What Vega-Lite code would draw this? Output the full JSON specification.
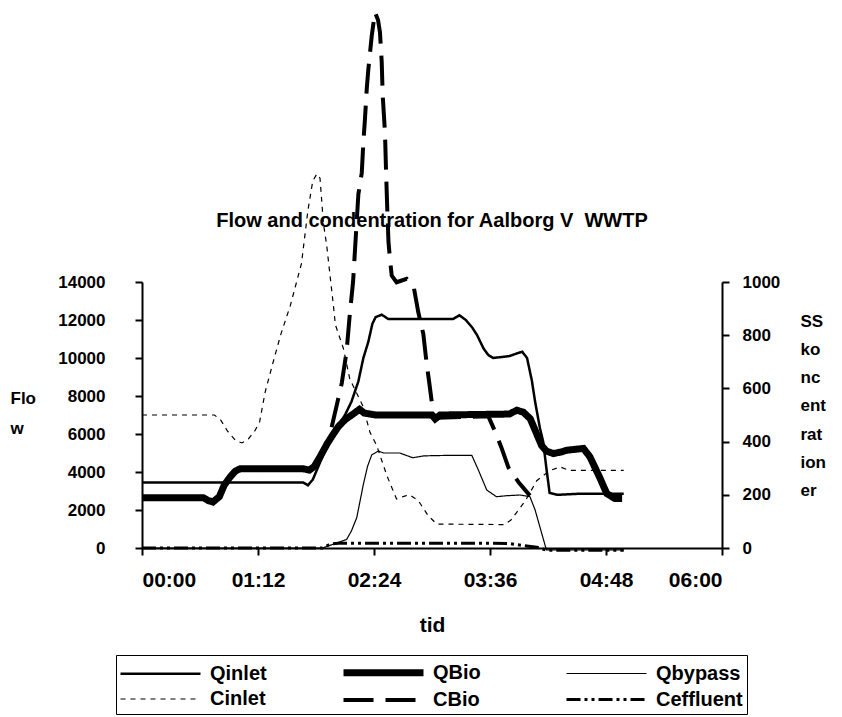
{
  "$schema": "https://vega.github.io/schema/vega-lite/v6.json",
  "width": 580,
  "height": 266,
  "autosize": {"type": "none"},
  "padding": {"left": 142, "top": 282, "right": 120, "bottom": 169},
  "background": "white",
  "config": {
    "font": "Liberation Sans",
    "view": {"stroke": null},
    "axis": {"domainColor": "black", "domainWidth": 2, "tickColor": "black", "tickWidth": 2, "labelColor": "black", "labelFont": "Liberation Sans", "labelFontWeight": "bold", "labelFontSize": 17, "titleFont": "Liberation Sans", "titleFontWeight": "bold", "titleFontSize": 17, "titleColor": "black", "grid": false},
    "legend": {"labelFont": "Liberation Sans", "labelFontWeight": "bold", "labelFontSize": 20, "labelColor": "black"}
  },
  "title": {"text": "Flow and condentration for Aalborg V\u00a0 WWTP", "fontSize": 20, "fontWeight": "bold", "font": "Liberation Sans", "color": "black", "anchor": "middle", "baseline": "alphabetic", "offset": 0, "dy": 243},
  "datasets": {
    "flow": [
      {"series": "Qinlet", "t": 0, "v": 3450}, {"series": "Qinlet", "t": 100, "v": 3450}, {"series": "Qinlet", "t": 103, "v": 3300}, {"series": "Qinlet", "t": 106, "v": 3600}, {"series": "Qinlet", "t": 110, "v": 4400}, {"series": "Qinlet", "t": 115, "v": 5400}, {"series": "Qinlet", "t": 121, "v": 6350}, {"series": "Qinlet", "t": 126, "v": 7000}, {"series": "Qinlet", "t": 130, "v": 7700}, {"series": "Qinlet", "t": 134.3, "v": 8770}, {"series": "Qinlet", "t": 137.4, "v": 10000}, {"series": "Qinlet", "t": 140.5, "v": 10860}, {"series": "Qinlet", "t": 143, "v": 11800}, {"series": "Qinlet", "t": 145, "v": 12150}, {"series": "Qinlet", "t": 148.8, "v": 12280}, {"series": "Qinlet", "t": 152.9, "v": 12050}, {"series": "Qinlet", "t": 193, "v": 12050}, {"series": "Qinlet", "t": 197, "v": 12250}, {"series": "Qinlet", "t": 201, "v": 12000}, {"series": "Qinlet", "t": 205, "v": 11600}, {"series": "Qinlet", "t": 208, "v": 11200}, {"series": "Qinlet", "t": 212, "v": 10500}, {"series": "Qinlet", "t": 215, "v": 10150}, {"series": "Qinlet", "t": 218, "v": 10000}, {"series": "Qinlet", "t": 228, "v": 10100}, {"series": "Qinlet", "t": 233, "v": 10250}, {"series": "Qinlet", "t": 236, "v": 10330}, {"series": "Qinlet", "t": 239, "v": 10000}, {"series": "Qinlet", "t": 242, "v": 8800}, {"series": "Qinlet", "t": 244, "v": 7700}, {"series": "Qinlet", "t": 247, "v": 6300}, {"series": "Qinlet", "t": 249, "v": 5600}, {"series": "Qinlet", "t": 251, "v": 4200}, {"series": "Qinlet", "t": 253, "v": 2900}, {"series": "Qinlet", "t": 258, "v": 2800}, {"series": "Qinlet", "t": 270, "v": 2850}, {"series": "Qinlet", "t": 299, "v": 2850},
      {"series": "QBio", "t": 0, "v": 2650}, {"series": "QBio", "t": 38, "v": 2650}, {"series": "QBio", "t": 41, "v": 2500}, {"series": "QBio", "t": 44, "v": 2420}, {"series": "QBio", "t": 48, "v": 2700}, {"series": "QBio", "t": 51, "v": 3300}, {"series": "QBio", "t": 54.6, "v": 3730}, {"series": "QBio", "t": 58, "v": 4050}, {"series": "QBio", "t": 61, "v": 4170}, {"series": "QBio", "t": 100, "v": 4170}, {"series": "QBio", "t": 104, "v": 4100}, {"series": "QBio", "t": 107, "v": 4300}, {"series": "QBio", "t": 110.5, "v": 4800}, {"series": "QBio", "t": 115, "v": 5500}, {"series": "QBio", "t": 118.8, "v": 6000}, {"series": "QBio", "t": 122, "v": 6400}, {"series": "QBio", "t": 126, "v": 6750}, {"series": "QBio", "t": 131, "v": 7050}, {"series": "QBio", "t": 135, "v": 7300}, {"series": "QBio", "t": 138, "v": 7100}, {"series": "QBio", "t": 145, "v": 7000}, {"series": "QBio", "t": 180, "v": 7000}, {"series": "QBio", "t": 182, "v": 6800}, {"series": "QBio", "t": 185, "v": 7000}, {"series": "QBio", "t": 228, "v": 7050}, {"series": "QBio", "t": 232.6, "v": 7250}, {"series": "QBio", "t": 236.7, "v": 7150}, {"series": "QBio", "t": 241, "v": 6800}, {"series": "QBio", "t": 245, "v": 6000}, {"series": "QBio", "t": 248, "v": 5400}, {"series": "QBio", "t": 251, "v": 5100}, {"series": "QBio", "t": 255.3, "v": 4970}, {"series": "QBio", "t": 260, "v": 5050}, {"series": "QBio", "t": 264, "v": 5150}, {"series": "QBio", "t": 274, "v": 5240}, {"series": "QBio", "t": 278, "v": 4800}, {"series": "QBio", "t": 284, "v": 3730}, {"series": "QBio", "t": 288.5, "v": 2860}, {"series": "QBio", "t": 293.6, "v": 2600}, {"series": "QBio", "t": 298, "v": 2600},
      {"series": "Qbypass", "t": 0, "v": 0}, {"series": "Qbypass", "t": 112, "v": 0}, {"series": "Qbypass", "t": 117, "v": 150}, {"series": "Qbypass", "t": 122, "v": 300}, {"series": "Qbypass", "t": 127, "v": 450}, {"series": "Qbypass", "t": 130, "v": 900}, {"series": "Qbypass", "t": 133.3, "v": 1600}, {"series": "Qbypass", "t": 137.4, "v": 3350}, {"series": "Qbypass", "t": 140, "v": 4300}, {"series": "Qbypass", "t": 142.6, "v": 4900}, {"series": "Qbypass", "t": 146.7, "v": 5100}, {"series": "Qbypass", "t": 150, "v": 5000}, {"series": "Qbypass", "t": 160, "v": 5000}, {"series": "Qbypass", "t": 168, "v": 4750}, {"series": "Qbypass", "t": 175, "v": 4850}, {"series": "Qbypass", "t": 193, "v": 4880}, {"series": "Qbypass", "t": 204.7, "v": 4880}, {"series": "Qbypass", "t": 208.8, "v": 4100}, {"series": "Qbypass", "t": 214, "v": 3050}, {"series": "Qbypass", "t": 220, "v": 2700}, {"series": "Qbypass", "t": 226, "v": 2750}, {"series": "Qbypass", "t": 234.6, "v": 2790}, {"series": "Qbypass", "t": 240.8, "v": 2700}, {"series": "Qbypass", "t": 244, "v": 2000}, {"series": "Qbypass", "t": 248, "v": 800}, {"series": "Qbypass", "t": 251, "v": -100}, {"series": "Qbypass", "t": 299, "v": -100}
    ],
    "conc": [
      {"series": "Cinlet", "t": 0, "v": 500}, {"series": "Cinlet", "t": 45, "v": 500}, {"series": "Cinlet", "t": 49, "v": 480}, {"series": "Cinlet", "t": 53, "v": 440}, {"series": "Cinlet", "t": 58, "v": 405}, {"series": "Cinlet", "t": 62, "v": 395}, {"series": "Cinlet", "t": 66, "v": 410}, {"series": "Cinlet", "t": 70, "v": 440}, {"series": "Cinlet", "t": 73, "v": 474}, {"series": "Cinlet", "t": 76.4, "v": 585}, {"series": "Cinlet", "t": 81, "v": 690}, {"series": "Cinlet", "t": 86, "v": 800}, {"series": "Cinlet", "t": 92, "v": 910}, {"series": "Cinlet", "t": 99, "v": 1070}, {"series": "Cinlet", "t": 103, "v": 1270}, {"series": "Cinlet", "t": 106, "v": 1380}, {"series": "Cinlet", "t": 108.5, "v": 1406}, {"series": "Cinlet", "t": 110.5, "v": 1390}, {"series": "Cinlet", "t": 112.6, "v": 1220}, {"series": "Cinlet", "t": 114.6, "v": 1140}, {"series": "Cinlet", "t": 116.7, "v": 1025}, {"series": "Cinlet", "t": 118.8, "v": 912}, {"series": "Cinlet", "t": 120, "v": 840}, {"series": "Cinlet", "t": 125, "v": 750}, {"series": "Cinlet", "t": 129, "v": 635}, {"series": "Cinlet", "t": 133, "v": 585}, {"series": "Cinlet", "t": 137, "v": 535}, {"series": "Cinlet", "t": 141.5, "v": 435}, {"series": "Cinlet", "t": 145.7, "v": 385}, {"series": "Cinlet", "t": 152, "v": 272}, {"series": "Cinlet", "t": 158, "v": 184}, {"series": "Cinlet", "t": 163, "v": 195}, {"series": "Cinlet", "t": 166, "v": 200}, {"series": "Cinlet", "t": 171.5, "v": 178}, {"series": "Cinlet", "t": 177.7, "v": 121}, {"series": "Cinlet", "t": 183, "v": 90}, {"series": "Cinlet", "t": 225, "v": 88}, {"series": "Cinlet", "t": 229, "v": 105}, {"series": "Cinlet", "t": 232.6, "v": 134}, {"series": "Cinlet", "t": 238, "v": 178}, {"series": "Cinlet", "t": 245, "v": 253}, {"series": "Cinlet", "t": 253, "v": 291}, {"series": "Cinlet", "t": 259.5, "v": 305}, {"series": "Cinlet", "t": 265, "v": 292}, {"series": "Cinlet", "t": 299, "v": 292},
      {"series": "CBio", "t": 117.7, "v": 454}, {"series": "CBio", "t": 121, "v": 540}, {"series": "CBio", "t": 124, "v": 620}, {"series": "CBio", "t": 127, "v": 740}, {"series": "CBio", "t": 129, "v": 880}, {"series": "CBio", "t": 131, "v": 1000}, {"series": "CBio", "t": 132.5, "v": 1150}, {"series": "CBio", "t": 134.3, "v": 1330}, {"series": "CBio", "t": 136.4, "v": 1410}, {"series": "CBio", "t": 137.4, "v": 1525}, {"series": "CBio", "t": 138.4, "v": 1614}, {"series": "CBio", "t": 139.5, "v": 1726}, {"series": "CBio", "t": 140.5, "v": 1800}, {"series": "CBio", "t": 142.6, "v": 1926}, {"series": "CBio", "t": 144.6, "v": 2014}, {"series": "CBio", "t": 146.5, "v": 1985}, {"series": "CBio", "t": 147.7, "v": 1939}, {"series": "CBio", "t": 148.8, "v": 1826}, {"series": "CBio", "t": 149.4, "v": 1701}, {"series": "CBio", "t": 150.8, "v": 1564}, {"series": "CBio", "t": 151.5, "v": 1413}, {"series": "CBio", "t": 152.3, "v": 1262}, {"series": "CBio", "t": 153, "v": 1150}, {"series": "CBio", "t": 154, "v": 1080}, {"series": "CBio", "t": 155, "v": 1024}, {"series": "CBio", "t": 158, "v": 999}, {"series": "CBio", "t": 164.3, "v": 1012}, {"series": "CBio", "t": 168.5, "v": 987}, {"series": "CBio", "t": 171.5, "v": 886}, {"series": "CBio", "t": 174.6, "v": 805}, {"series": "CBio", "t": 176.7, "v": 692}, {"series": "CBio", "t": 178.4, "v": 617}, {"series": "CBio", "t": 180.9, "v": 500}, {"series": "CBio", "t": 184, "v": 490}, {"series": "CBio", "t": 215, "v": 495}, {"series": "CBio", "t": 219, "v": 440}, {"series": "CBio", "t": 223, "v": 379}, {"series": "CBio", "t": 227.4, "v": 303}, {"series": "CBio", "t": 234, "v": 245}, {"series": "CBio", "t": 240.8, "v": 197},
      {"series": "Ceffluent", "t": 0, "v": 0}, {"series": "Ceffluent", "t": 112, "v": 0}, {"series": "Ceffluent", "t": 117, "v": 15}, {"series": "Ceffluent", "t": 122, "v": 18}, {"series": "Ceffluent", "t": 213, "v": 18}, {"series": "Ceffluent", "t": 228, "v": 17}, {"series": "Ceffluent", "t": 236, "v": 10}, {"series": "Ceffluent", "t": 245, "v": 3}, {"series": "Ceffluent", "t": 251, "v": -8}, {"series": "Ceffluent", "t": 299, "v": -8}
    ]
  },
  "encoding": {
    "x": {"field": "t", "type": "quantitative", "scale": {"domain": [0, 360], "nice": false, "zero": false},
      "axis": {"title": "tid", "values": [0, 72, 144, 216, 288, 360], "tickSize": 7, "labelPadding": 14, "labelFontSize": 21, "titleFontSize": 21, "titlePadding": 24,
        "labelExpr": "'0' + floor(datum.value / 60) + ':' + (datum.value % 60 < 10 ? '0' : '') + (datum.value % 60)"}},
    "color": {"field": "series", "type": "nominal", "scale": {"domain": ["Qinlet", "QBio", "Qbypass", "Cinlet", "CBio", "Ceffluent"], "range": ["black", "black", "black", "black", "black", "black"]},
      "legend": {"title": null, "orient": "none", "legendX": -26, "legendY": 373, "columns": 3, "direction": "horizontal", "gridAlign": "all", "strokeColor": "black", "padding": 4, "columnPadding": 32, "rowPadding": 1, "symbolSize": 400, "symbolType": "M-4,0H4", "symbolOffset": 27, "labelOffset": 36}},
    "strokeDash": {"field": "series", "type": "nominal", "scale": {"domain": ["Qinlet", "QBio", "Qbypass", "Cinlet", "CBio", "Ceffluent"], "range": [[1, 0], [1, 0], [1, 0], [5, 5], [30, 12], [14, 4, 3, 4, 3, 4]]}},
    "strokeWidth": {"field": "series", "type": "nominal", "scale": {"type": "ordinal", "domain": ["Qinlet", "QBio", "Qbypass", "Cinlet", "CBio", "Ceffluent"], "range": [2.5, 7, 1.2, 1.2, 4, 3]}}
  },
  "layer": [
    {
      "data": {"name": "flow"},
      "mark": {"type": "line", "clip": false},
      "encoding": {
        "y": {"field": "v", "type": "quantitative", "scale": {"domain": [0, 14000], "nice": false},
          "axis": {"orient": "left", "title": ["Flo", "w"], "values": [0, 2000, 4000, 6000, 8000, 10000, 12000, 14000], "format": "d", "tickSize": 7, "labelPadding": 30, "titleAngle": 0, "titleAlign": "left", "titleBaseline": "top", "titleX": -132, "titleY": 108, "titleLineHeight": 30}}
      }
    },
    {
      "data": {"name": "conc"},
      "mark": {"type": "line", "clip": false},
      "encoding": {
        "y": {"field": "v", "type": "quantitative", "scale": {"domain": [0, 1000], "nice": false},
          "axis": {"orient": "right", "title": ["SS", "ko", "nc", "ent", "rat", "ion", "er"], "values": [0, 200, 400, 600, 800, 1000], "format": "d", "tickSize": 7, "labelPadding": 13, "titleAngle": 0, "titleAlign": "left", "titleBaseline": "top", "titleX": 78, "titleY": 31, "titleLineHeight": 28.3}}
      }
    }
  ],
  "resolve": {"scale": {"y": "independent"}}
}
